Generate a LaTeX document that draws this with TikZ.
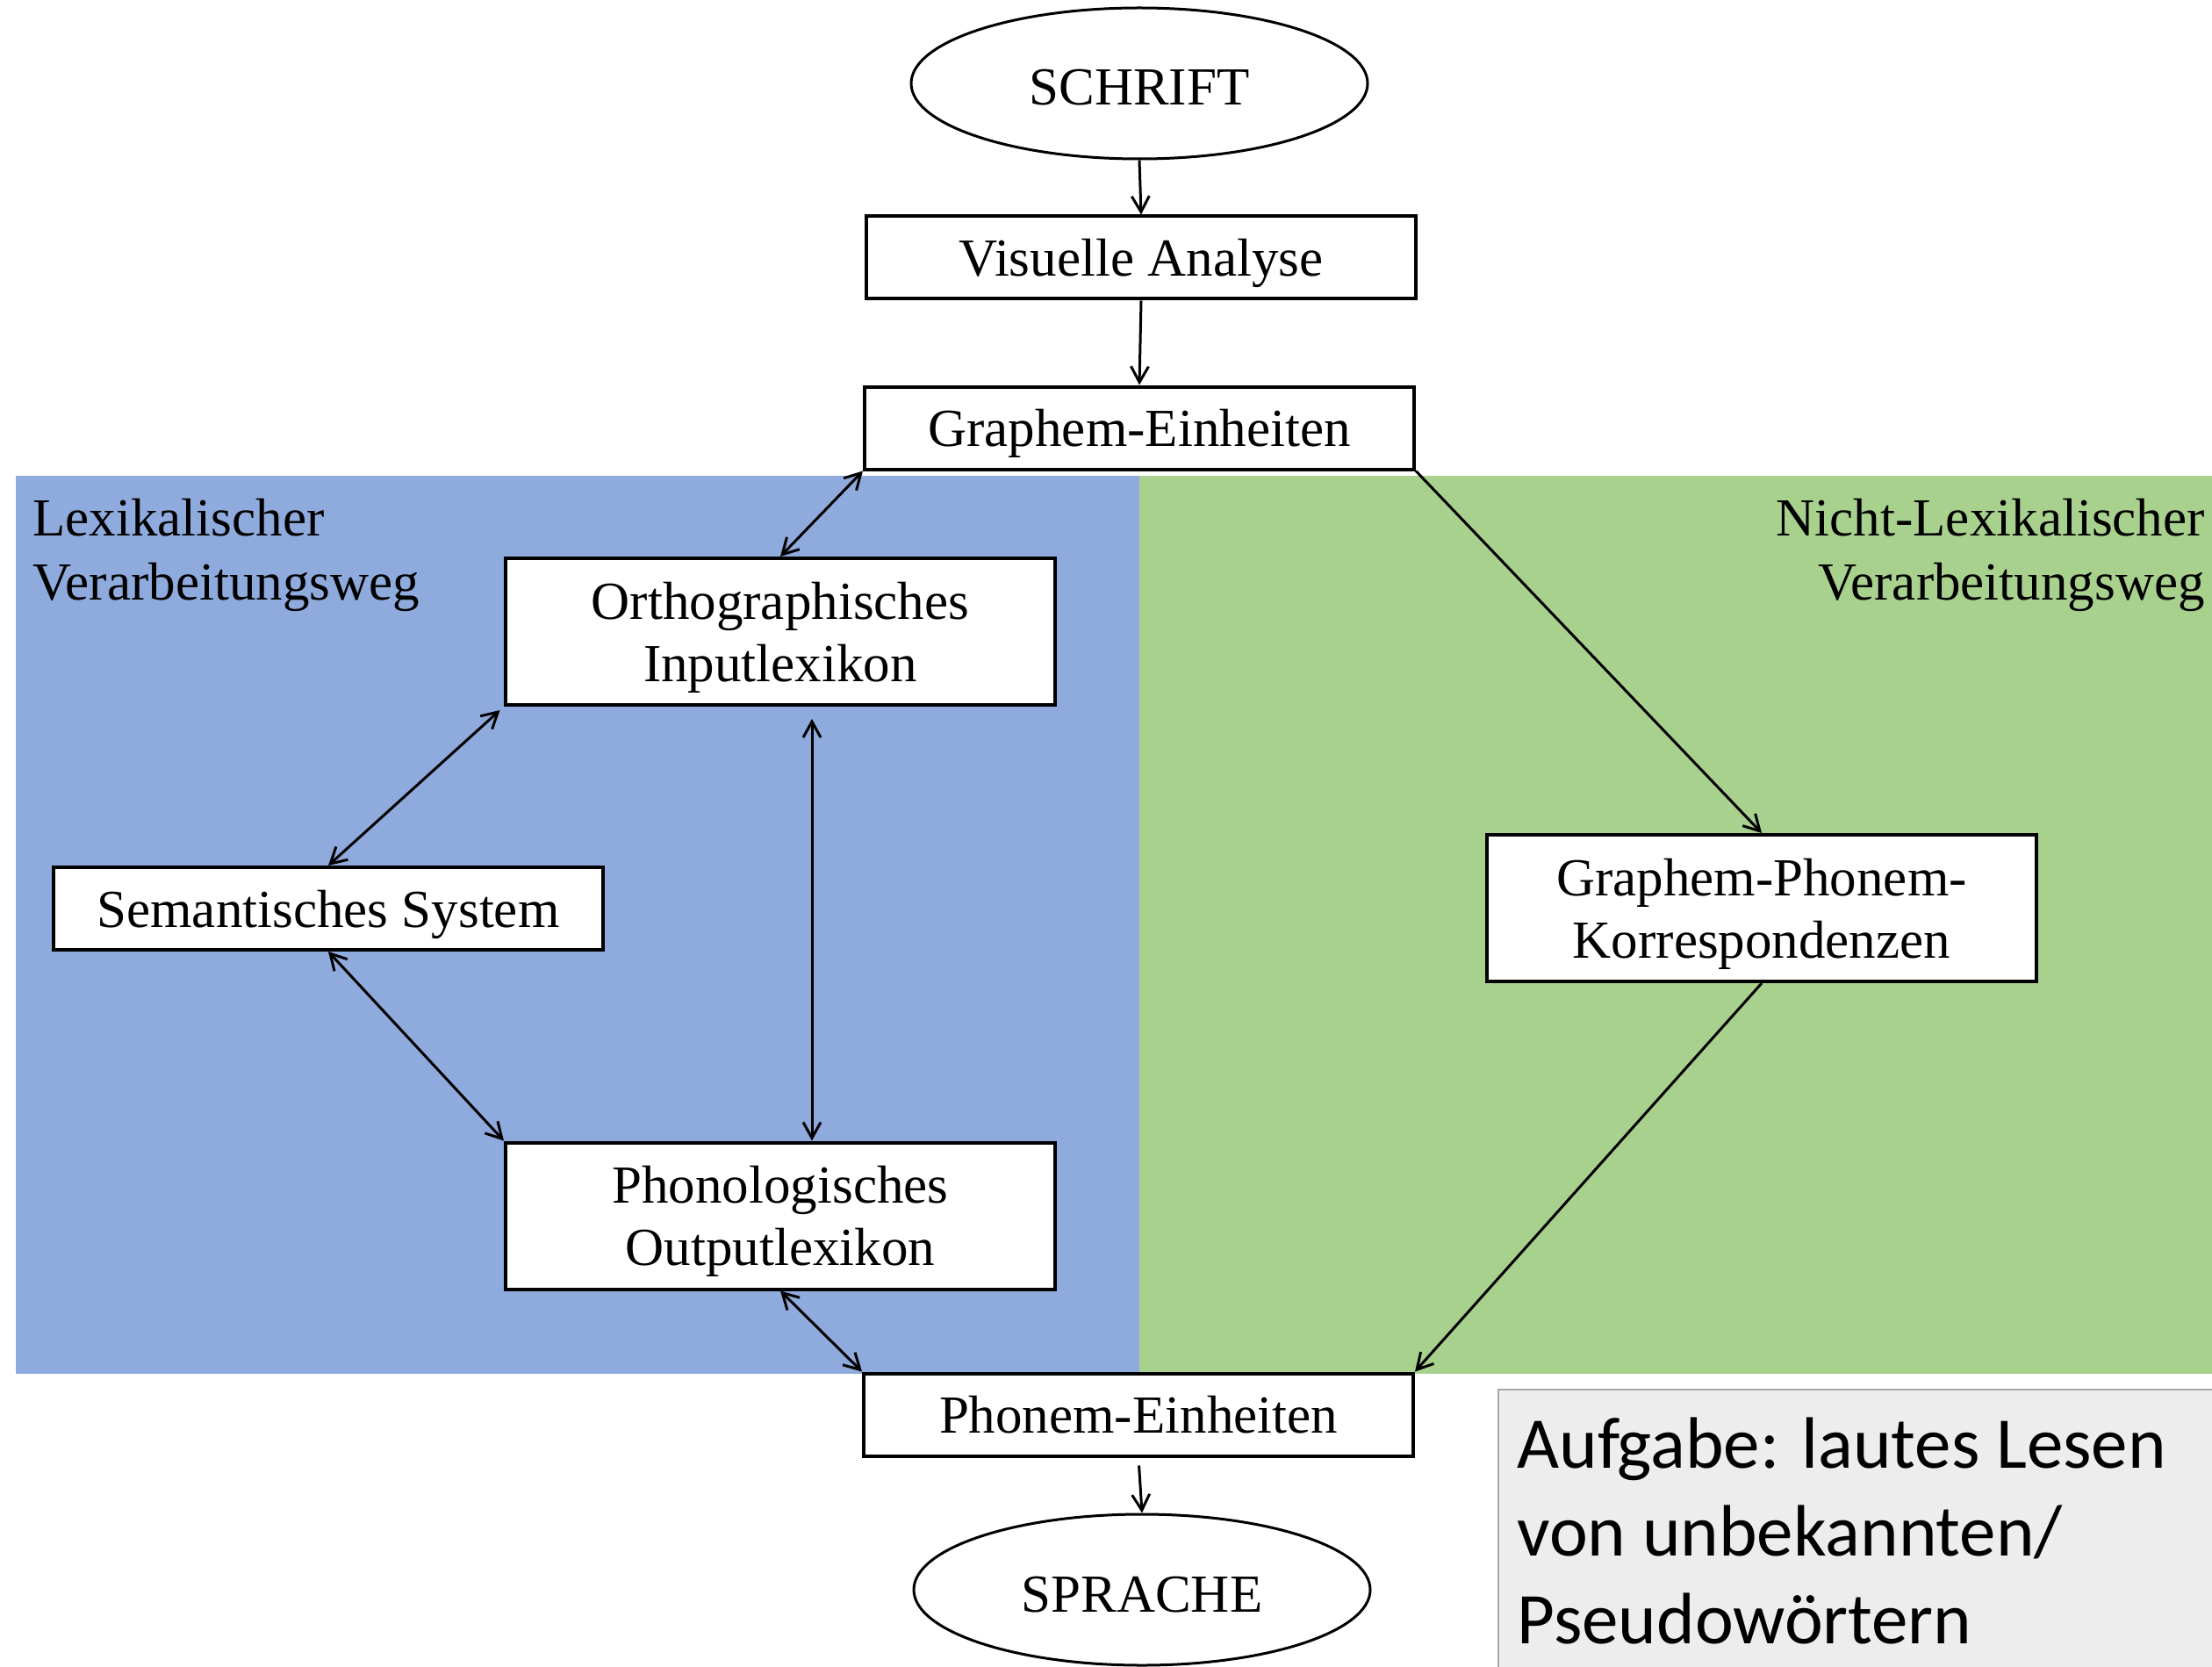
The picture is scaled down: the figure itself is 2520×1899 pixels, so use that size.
\documentclass[tikz,border=0pt]{standalone}
\usepackage{fontspec}
\setmainfont{Liberation Serif}
\newfontfamily\calib{Carlito}
\usetikzlibrary{arrows.meta,shapes.geometric}
\definecolor{lexblue}{HTML}{8FAADC}
\definecolor{nlgreen}{HTML}{A9D18E}
\definecolor{taskgray}{HTML}{EDEDED}
\definecolor{taskborder}{HTML}{A6A6A6}
\begin{document}
\begin{tikzpicture}[x=0.5pt,y=-0.5pt,
  mainfont/.style={font=\fontsize{30.5}{35.5}\selectfont},
  box/.style={draw, line width=2pt, fill=white, minimum width=313pt, minimum height=47pt, inner sep=0pt, text depth=0pt, align=center, mainfont},
  tallbox/.style={box, minimum height=83.5pt},
  oval/.style={draw, ellipse, line width=1.5pt, fill=white, minimum width=260pt, minimum height=86pt, inner sep=0pt, text height=25pt, text depth=0pt, mainfont},
  conn/.style={line width=1.5pt, -{Straight Barb[length=9pt,width=10pt]}},
  biconn/.style={line width=1.5pt, {Straight Barb[length=9pt,width=10pt]}-{Straight Barb[length=9pt,width=10pt]}},
  label/.style={inner sep=0pt, font=\fontsize{30.5}{36.5}\selectfont}
]
\useasboundingbox (0,0) rectangle (2520,1899);
\fill[white] (0,0) rectangle (2520,1899);
\fill[lexblue] (18,542) rectangle (1298,1565);
\fill[nlgreen] (1298,542) rectangle (2520,1565);
\draw[taskborder, fill=taskgray, line width=1pt] (1707,1583) rectangle (2540,1920);

\node[label, anchor=base west] (lexlabel) at (37,610) {\begin{tabular}[t]{@{}l@{}}Lexikalischer\\Verarbeitungsweg\end{tabular}};
\node[label, anchor=base east] (nlexlabel) at (2512,610) {\begin{tabular}[t]{@{}r@{}}Nicht-Lexikalischer\\Verarbeitungsweg\end{tabular}};
\node[inner sep=0pt, anchor=base west, font=\calib\fontsize{41.5}{50}\selectfont] (tasktext) at (1728,1672) {\begin{tabular}[t]{@{}l@{}}Aufgabe: lautes Lesen\\von unbekannten/\\Pseudowörtern\end{tabular}};

\node[oval] (schrift) at (1298,95) {SCHRIFT};
\node[box] (visuell) at (1300,293.5) {Visuelle Analyse};
\node[box] (graphem) at (1298,487.5) {Graphem-Einheiten};
\node[tallbox] (ortho) at (889,719.5) {Orthographisches\\Inputlexikon};
\node[box] (sem) at (374,1035) {Semantisches System};
\node[tallbox] (phono) at (889,1385) {Phonologisches\\Outputlexikon};
\node[tallbox] (gpk) at (2007,1034.5) {Graphem-Phonem-\\Korrespondenzen};
\node[box] (phonem) at (1297,1611.5) {Phonem-Einheiten};
\node[oval] (sprache) at (1301,1811) {SPRACHE};

\draw[conn] (schrift.south) -- (visuell.north);
\draw[conn] (visuell.south) -- (graphem.north);
\draw[biconn] (graphem.south west) -- (ortho.north);
\draw[conn] (graphem.south east) -- (gpk.north);
\draw[biconn, shorten <=3pt] (ortho.south west) -- (sem.north);
\draw[biconn, shorten <=7pt] ([xshift=18pt]ortho.south) -- ([xshift=18pt]phono.north);
\draw[biconn] (sem.south) -- (phono.north west);
\draw[biconn] (phono.south) -- (phonem.north west);
\draw[conn] (gpk.south) -- (phonem.north east);
\draw[conn, shorten <=4.5pt] (phonem.south) -- (sprache.north);
\end{tikzpicture}
\end{document}
